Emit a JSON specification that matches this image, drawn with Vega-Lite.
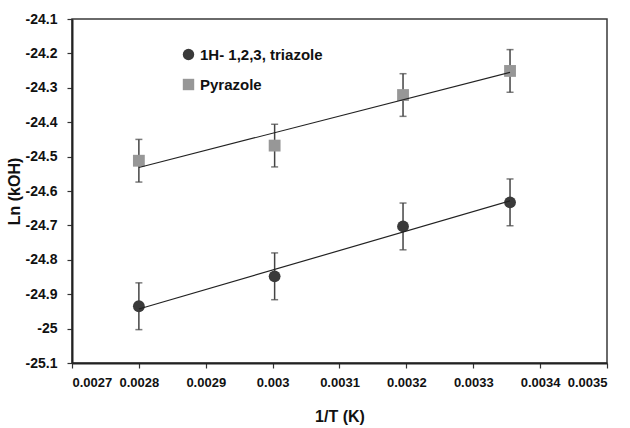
{
  "$schema": "https://vega.github.io/schema/vega-lite/v6.json",
  "width": 535,
  "height": 344,
  "autosize": {"type": "none"},
  "padding": {"left": 72, "top": 19, "right": 23, "bottom": 65},
  "background": "white",
  "config": {
    "font": "Liberation Sans",
    "view": {"stroke": "#3a3a3a", "strokeWidth": 1.5},
    "axis": {
      "grid": false,
      "domainColor": "#222222",
      "domainWidth": 2,
      "tickColor": "#333333",
      "tickSize": 5,
      "tickWidth": 1.2,
      "labelColor": "#111111",
      "labelFont": "Liberation Sans",
      "labelFontSize": 14,
      "labelFontWeight": "bold",
      "titleColor": "#111111",
      "titleFont": "Liberation Sans",
      "titleFontSize": 16,
      "titleFontWeight": "bold"
    }
  },
  "data": {
    "values": [
      {"series": "1H- 1,2,3, triazole", "invT": 0.0028, "lnk": -24.935, "err": 0.068},
      {"series": "1H- 1,2,3, triazole", "invT": 0.003003, "lnk": -24.848, "err": 0.068},
      {"series": "1H- 1,2,3, triazole", "invT": 0.003195, "lnk": -24.703, "err": 0.068},
      {"series": "1H- 1,2,3, triazole", "invT": 0.003355, "lnk": -24.633, "err": 0.068},
      {"series": "Pyrazole", "invT": 0.0028, "lnk": -24.512, "err": 0.062},
      {"series": "Pyrazole", "invT": 0.003003, "lnk": -24.468, "err": 0.062},
      {"series": "Pyrazole", "invT": 0.003195, "lnk": -24.321, "err": 0.062},
      {"series": "Pyrazole", "invT": 0.003355, "lnk": -24.251, "err": 0.062}
    ]
  },
  "encoding": {
    "x": {
      "field": "invT",
      "type": "quantitative",
      "scale": {"domain": [0.0027, 0.0035], "nice": false, "zero": false},
      "axis": {
        "title": "1/T (K)",
        "values": [0.0027, 0.0028, 0.0029, 0.003, 0.0031, 0.0032, 0.0033, 0.0034, 0.0035],
        "labelExpr": "'' + datum.value",
        "labelFontSize": 13,
        "labelPadding": 8,
        "titlePadding": 19
      }
    },
    "y": {
      "field": "lnk",
      "type": "quantitative",
      "scale": {"domain": [-25.1, -24.1], "nice": false, "zero": false},
      "axis": {
        "title": "Ln (kOH)",
        "values": [-25.1, -25, -24.9, -24.8, -24.7, -24.6, -24.5, -24.4, -24.3, -24.2, -24.1],
        "labelExpr": "'' + datum.value",
        "labelPadding": 10,
        "titlePadding": 3
      }
    }
  },
  "layer": [
    {
      "mark": {"type": "errorbar", "ticks": {"size": 7}, "color": "#444444", "thickness": 1.5},
      "encoding": {
        "y": {"field": "lnk", "type": "quantitative"},
        "yError": {"field": "err"}
      }
    },
    {
      "mark": {"type": "point", "filled": true, "opacity": 1, "size": 140},
      "encoding": {
        "color": {
          "field": "series",
          "type": "nominal",
          "scale": {"domain": ["1H- 1,2,3, triazole", "Pyrazole"], "range": ["#3a3a3a", "#979797"]},
          "legend": {
            "title": null,
            "orient": "none",
            "legendX": 109,
            "legendY": 28,
            "labelFontSize": 15,
            "labelFontWeight": "bold",
            "labelColor": "#111111",
            "labelFont": "Liberation Sans",
            "rowPadding": 14,
            "symbolSize": 130,
            "labelOffset": 4
          }
        },
        "shape": {
          "field": "series",
          "type": "nominal",
          "scale": {"domain": ["1H- 1,2,3, triazole", "Pyrazole"], "range": ["circle", "square"]},
          "legend": null
        }
      }
    },
    {
      "transform": [
        {"regression": "lnk", "on": "invT", "groupby": ["series"]}
      ],
      "mark": {"type": "line", "color": "#222222", "strokeWidth": 1.2},
      "encoding": {
        "detail": {"field": "series", "type": "nominal"}
      }
    }
  ]
}
